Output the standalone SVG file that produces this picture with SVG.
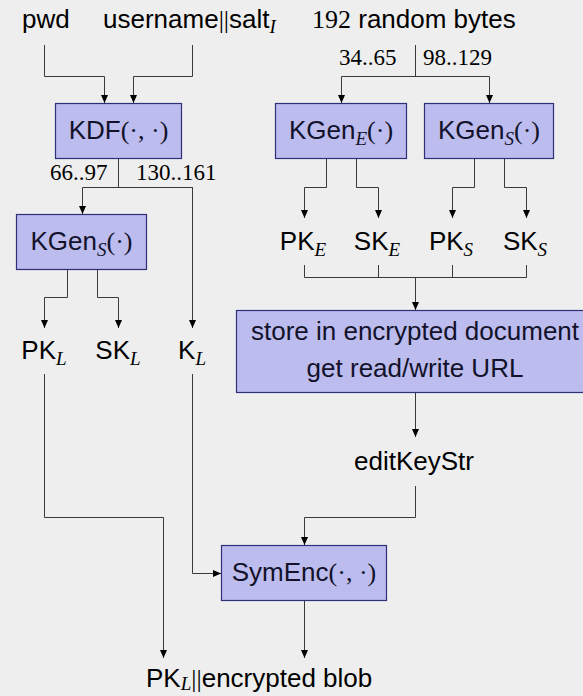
<svg xmlns="http://www.w3.org/2000/svg" width="583" height="696" viewBox="0 0 583 696">
<style>
.bg{fill:#eeeeee}
.box{fill:#bcbcee;stroke:#30307a;stroke-width:1.2}
.t{font-family:"Liberation Sans",Arial,sans-serif;font-size:26px;fill:#000}
.bt{font-family:"Liberation Sans",Arial,sans-serif;font-size:26px;fill:#12122a}
.m{font-family:"Liberation Serif","Times New Roman",serif;font-style:normal}
.sub{font-family:"Liberation Serif","Times New Roman",serif;font-style:italic;font-size:19px}
.num{font-family:"Liberation Serif","Times New Roman",serif;font-size:23px;fill:#000}
.c path{fill:none;stroke:#3a3a3a;stroke-width:1}
.a{marker-end:url(#arr)}
</style>
<defs>
<marker id="arr" markerWidth="8" markerHeight="8" refX="8" refY="3.5" orient="auto" markerUnits="userSpaceOnUse">
<path d="M0,0 L8,3.5 L0,7 z" fill="#000"/>
</marker>
</defs>
<rect class="bg" x="0" y="0" width="583" height="696"/>

<g id="inputs">
<text class="t" x="22" y="28">pwd</text>
<text class="t" x="103" y="28">username<tspan class="m">||</tspan>salt<tspan class="sub" dy="5">I</tspan></text>
<text class="t" x="312" y="28"><tspan class="m">192</tspan> random bytes</text>
</g>

<g id="byte-labels">
<text class="num" x="339" y="65">34..65</text>
<text class="num" x="423" y="65">98..129</text>
<text class="num" x="50" y="180">66..97</text>
<text class="num" x="136" y="180">130..161</text>
</g>

<g id="kdf">
<rect class="box" x="55.5" y="103.5" width="126" height="55"/>
<text class="bt" x="118.5" y="139" text-anchor="middle">KDF<tspan class="m">(·, ·)</tspan></text>
</g>

<g id="kgen-e">
<rect class="box" x="275.5" y="103.5" width="131" height="55"/>
<text class="bt" x="341" y="139" text-anchor="middle">KGen<tspan class="sub" dy="6">E</tspan><tspan class="m" dy="-6">(·)</tspan></text>
</g>

<g id="kgen-s">
<rect class="box" x="424.5" y="103.5" width="129" height="55"/>
<text class="bt" x="489" y="139" text-anchor="middle">KGen<tspan class="sub" dy="6">S</tspan><tspan class="m" dy="-6">(·)</tspan></text>
</g>

<g id="kgen-s-left">
<rect class="box" x="16.5" y="214.5" width="130" height="55"/>
<text class="bt" x="81.5" y="250" text-anchor="middle">KGen<tspan class="sub" dy="6">S</tspan><tspan class="m" dy="-6">(·)</tspan></text>
</g>

<g id="keys">
<text class="t" x="303" y="250" text-anchor="middle">PK<tspan class="sub" dy="6">E</tspan></text>
<text class="t" x="377" y="250" text-anchor="middle">SK<tspan class="sub" dy="6">E</tspan></text>
<text class="t" x="451" y="250" text-anchor="middle">PK<tspan class="sub" dy="6">S</tspan></text>
<text class="t" x="525" y="250" text-anchor="middle">SK<tspan class="sub" dy="6">S</tspan></text>
<text class="t" x="44" y="359" text-anchor="middle">PK<tspan class="sub" dy="6">L</tspan></text>
<text class="t" x="118" y="359" text-anchor="middle">SK<tspan class="sub" dy="6">L</tspan></text>
<text class="t" x="192" y="359" text-anchor="middle">K<tspan class="sub" dy="6">L</tspan></text>
</g>

<g id="store">
<rect class="box" x="236.5" y="310.5" width="357" height="82"/>
<text class="bt" x="415" y="340" text-anchor="middle">store in encrypted document</text>
<text class="bt" x="415" y="377" text-anchor="middle">get read/write URL</text>
</g>

<g id="editkey">
<text class="t" x="414" y="470" text-anchor="middle">editKeyStr</text>
</g>

<g id="symenc">
<rect class="box" x="221.5" y="545.5" width="165" height="55"/>
<text class="bt" x="304" y="581" text-anchor="middle">SymEnc<tspan class="m">(·, ·)</tspan></text>
</g>

<g id="output">
<text class="t" x="146" y="687">PK<tspan class="sub" dy="3">L</tspan><tspan class="m" dy="-3">||</tspan>encrypted blob</text>
</g>

<g id="connectors" class="c">
<path class="a" d="M44.5,45 V76.5 H104.5 V103"/>
<path class="a" d="M192.5,45 V76.5 H133.5 V103"/>
<path d="M118.5,159 V187.5"/>
<path d="M82.5,187.5 H193"/>
<path class="a" d="M82.5,187.5 V214"/>
<path class="a" d="M192.5,187.5 V328"/>
<path d="M415.5,45 V76.5"/>
<path d="M341.5,76.5 H489.5"/>
<path class="a" d="M341.5,76.5 V103"/>
<path class="a" d="M489.5,76.5 V103"/>
<path class="a" d="M326.5,159 V187.5 H304.5 V218"/>
<path class="a" d="M356.5,159 V187.5 H378.5 V218"/>
<path class="a" d="M474.5,159 V187.5 H452.5 V218"/>
<path class="a" d="M504.5,159 V187.5 H526.5 V218"/>
<path class="a" d="M67.5,270 V297.5 H44.5 V328"/>
<path class="a" d="M97.5,270 V297.5 H118.5 V328"/>
<path d="M304.5,265 V277.5 M378.5,265 V277.5 M452.5,265 V277.5 M526.5,265 V277.5 M304.5,277.5 H526.5"/>
<path class="a" d="M415.5,277.5 V310"/>
<path class="a" d="M415.5,393 V437"/>
<path class="a" d="M415.5,486 V517.5 H304.5 V545"/>
<path class="a" d="M44.5,374 V517.5 H163.5 V658"/>
<path class="a" d="M192.5,374 V573.5 H221"/>
<path class="a" d="M304.5,601 V658"/>
</g>
</svg>
